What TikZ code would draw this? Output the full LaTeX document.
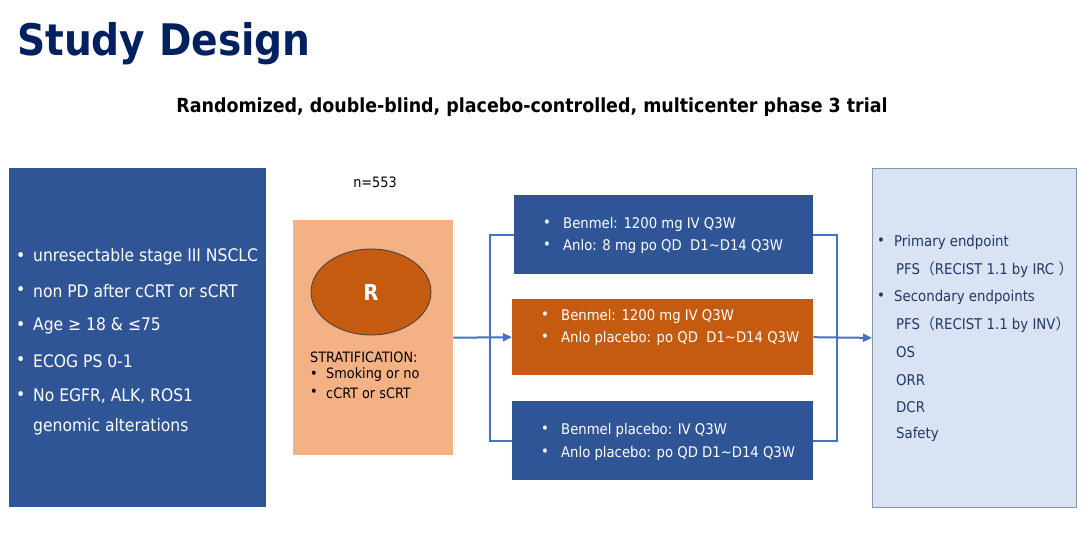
\documentclass[tikz,border=0pt]{standalone}
\usepackage{fontspec}
\setmainfont{DejaVu Sans Condensed}
\newfontfamily\cjkfont{Noto Sans CJK SC}
\usetikzlibrary{arrows.meta,shapes.geometric}
\definecolor{navy}{HTML}{002060}
\definecolor{boxblue}{HTML}{2F5597}
\definecolor{boxorange}{HTML}{C55A11}
\definecolor{lightorange}{HTML}{F4B183}
\definecolor{lightblue}{HTML}{DAE3F3}
\definecolor{edgeblue}{HTML}{8497B0}
\definecolor{linkblue}{HTML}{4472C4}
\definecolor{endtext}{HTML}{203864}
\newcommand{\fp}[1]{{\cjkfont #1}}
\begin{document}
\begin{tikzpicture}[x=1pt,y=-1pt,
  txt/.style={anchor=west,inner sep=0pt,font=\fontsize{14.7}{16}\selectfont},
  wtxt/.style={txt,text=white},
  lefttxt/.style={anchor=west,inner sep=0pt,text=white,font=\fontsize{17.3}{20}\selectfont},
  endtxt/.style={anchor=west,inner sep=0pt,text=endtext,font=\fontsize{14.8}{17}\selectfont},
  strattxt/.style={anchor=west,inner sep=0pt,font=\fontsize{14.3}{16}\selectfont},
  link/.style={draw=linkblue,line width=2pt},
  tip/.style={-{Triangle[length=9pt,width=8pt]}}
]
\useasboundingbox (0,0) rectangle (1086,540);
% title
\node[anchor=west,inner sep=0pt,text=navy,font=\fontsize{43.5}{46}\selectfont\bfseries] (title) at (17,44) {Study Design};
\node[inner sep=0pt,font=\fontsize{19.4}{22}\selectfont\bfseries] (subtitle) at (532,107) {Randomized, double-blind, placebo-controlled, multicenter phase 3 trial};

% left inclusion box
\node[fill=boxblue,minimum width=257,minimum height=339,inner sep=0pt,anchor=north west] (incl) at (9,168) {};
\foreach \yy/\t [count=\i] in {257/unresectable stage III NSCLC,291/non PD after cCRT or sCRT,326/Age ≥ 18 \& ≤75,361/ECOG PS 0-1,396/{No EGFR, ALK, ROS1}}{
  \node[lefttxt] (ib\i) at (16,\yy) {•};
  \node[lefttxt] (it\i) at (33,\yy) {\t};
}
\node[lefttxt] (it6) at (33,427) {genomic alterations};

% randomization box
\node[inner sep=0pt,font=\fontsize{14.3}{16}\selectfont] (n) at (375,182) {n=553};
\node[fill=lightorange,minimum width=160,minimum height=235,inner sep=0pt,anchor=north west] (rand) at (293,220) {};
\node[ellipse,fill=boxorange,draw=black!75,line width=0.8pt,minimum width=120,minimum height=86,inner sep=0pt,text=white,font=\fontsize{22}{24}\selectfont\bfseries] (R) at (371,292) {R};
\node[strattxt] (strat) at (310,357) {STRATIFICATION:};
\node[strattxt] (sb1) at (310,375) {•};
\node[strattxt] (s1) at (326,375) {Smoking or no};
\node[strattxt] (sb2) at (310,393) {•};
\node[strattxt] (s2) at (326,393) {cCRT or sCRT};

% arms
\node[fill=boxblue,minimum width=299,minimum height=79,inner sep=0pt,anchor=north west] (arm1) at (514,195) {};
\node[wtxt] (a1b1) at (543,224) {•};
\node[wtxt] (a1t1) at (563,224) {Benmel: 1200 mg IV Q3W};
\node[wtxt] (a1b2) at (543,246) {•};
\node[wtxt] (a1t2) at (563,246) {Anlo: 8 mg po QD\ \ D1\textasciitilde D14 Q3W};

\node[fill=boxorange,minimum width=301,minimum height=76,inner sep=0pt,anchor=north west] (arm2) at (512,299) {};
\node[wtxt] (a2b1) at (541,316) {•};
\node[wtxt] (a2t1) at (561,316) {Benmel: 1200 mg IV Q3W};
\node[wtxt] (a2b2) at (541,338) {•};
\node[wtxt] (a2t2) at (561,338) {Anlo placebo: po QD\ \ D1\textasciitilde D14 Q3W};

\node[fill=boxblue,minimum width=301,minimum height=79,inner sep=0pt,anchor=north west] (arm3) at (512,401) {};
\node[wtxt] (a3b1) at (541,430) {•};
\node[wtxt] (a3t1) at (561,430) {Benmel placebo: IV Q3W};
\node[wtxt] (a3b2) at (541,453) {•};
\node[wtxt] (a3t2) at (561,453) {Anlo placebo: po QD D1\textasciitilde D14 Q3W};

% endpoints
\node[fill=lightblue,draw=edgeblue,line width=0.8pt,minimum width=204,minimum height=339,inner sep=0pt,anchor=north west] (ends) at (872,168) {};
\node[endtxt] (eb1) at (877,242) {•};
\node[endtxt] (e1) at (894,242) {Primary endpoint};
\node[endtxt] (e2) at (896,270) {PFS\fp{（}RECIST 1.1 by IRC \fp{）}};
\node[endtxt] (eb2) at (877,297) {•};
\node[endtxt] (e3) at (894,297) {Secondary endpoints};
\node[endtxt] (e4) at (896,325) {PFS\fp{（}RECIST 1.1 by INV\fp{）}};
\node[endtxt] (e5) at (896,352) {OS};
\node[endtxt] (e6) at (896,380) {ORR};
\node[endtxt] (e7) at (896,407) {DCR};
\node[endtxt] (e8) at (896,434) {Safety};

% connectors
\coordinate (sl) at (490,338);
\coordinate (sr) at (837,338);
\draw[link] (arm1.west) -| (sl) |- (arm3.west);
\draw[link] (arm1.east) -| (sr) |- (arm3.east);
\draw[link,tip] (rand.east) -- (arm2.west);
\draw[link,tip] (arm2.east) -- (ends.west);
\end{tikzpicture}
\end{document}
